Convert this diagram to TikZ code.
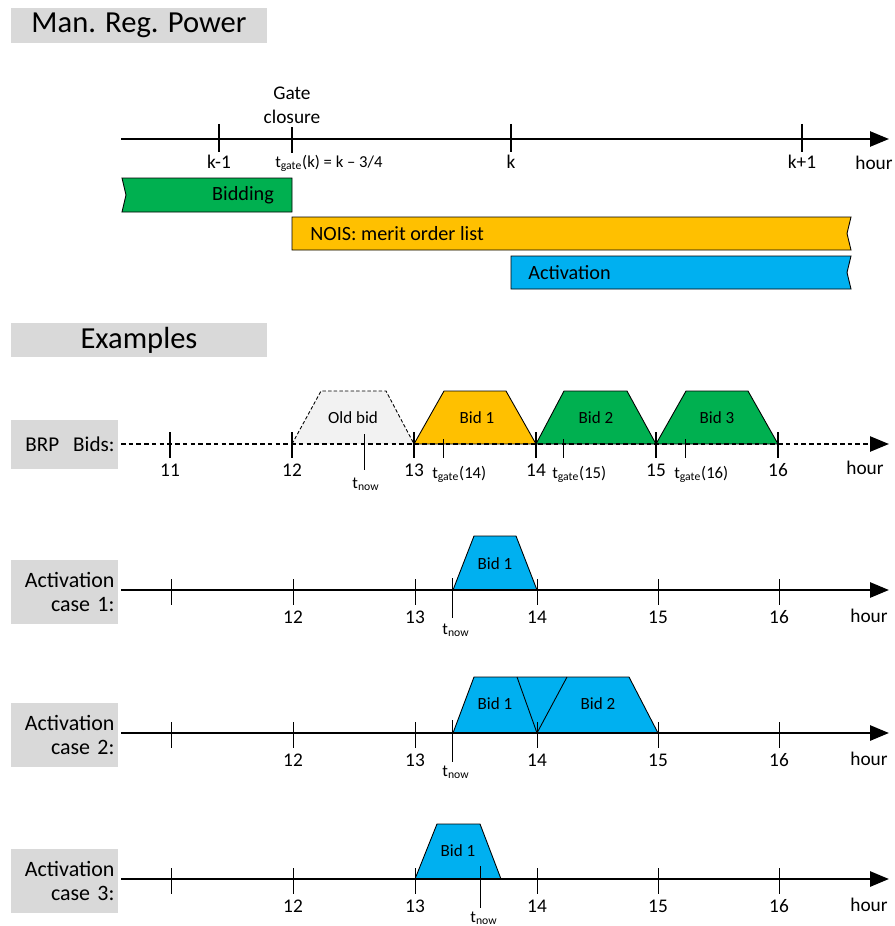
\documentclass[tikz,border=0pt]{standalone}
\usepackage{fontspec}
\setmainfont{Carlito}
\usepackage{tikz}
\usetikzlibrary{arrows.meta}
\definecolor{bidgreen}{HTML}{00B050}
\definecolor{noisorange}{HTML}{FFC000}
\definecolor{actblue}{HTML}{00B0F0}
\definecolor{boxgray}{HTML}{D9D9D9}
\definecolor{oldgray}{HTML}{F2F2F2}
\newcommand{\tsub}[1]{t\textsubscript{#1}}

\begin{document}
\begin{tikzpicture}[x=0.02cm,y=-0.02cm,
   every node/.style={inner sep=0pt},
   axis/.style={line width=1.4pt,-{Triangle[length=0.38cm,width=0.3cm]}},
   dashaxis/.style={axis,dash pattern=on 2.6pt off 1.8pt},
   thickaxis/.style={axis,line width=1.6pt},
   tick/.style={line width=0.8pt},
   thintick/.style={line width=0.5pt},
   bar/.style={draw=black,line width=0.5pt},
   bid/.style={draw=black,line width=0.5pt},
   head/.style={fill=boxgray,minimum width=5.12cm,minimum height=0.7cm,text depth=0.1cm,font=\fontsize{17.4}{20}\selectfont},
   rowbox/.style={fill=boxgray,minimum width=2.14cm,text width=2cm,align=right,font=\fontsize{12.5}{13.5}\selectfont},
   ticklbl/.style={font=\fontsize{11}{13.6}\selectfont},
   gatelbl/.style={font=\fontsize{9.5}{11}\selectfont},
   bidlbl/.style={font=\fontsize{9.7}{11}\selectfont},
   bartext/.style={font=\fontsize{11.5}{13}\selectfont}]
\useasboundingbox (0,0) rectangle (895,926);

% manual regulating power
\node[head] (title) at (139,25.5) {Man. Reg. Power};
\coordinate (top0) at (121,139);
\coordinate (top1) at (889,139);
\draw[axis] (top0) -- (top1);
\foreach \x/\t [count=\i] in {219/k-1,511/k,802/k+1}{
   \draw[tick] (\x,124) -- (\x,152);
   \node[ticklbl] (ktop\i) at (\x,162) {\t};
}
\draw[tick] (292,127) -- (292,153);
\node[ticklbl,align=center] (gate) at (292,105) {Gate\\closure};
\node[gatelbl,anchor=west] (tgate) at (275,163) {\tsub{gate}(k) = k -- 3/4};
\node[ticklbl] (hourtop) at (874,163) {hour};

\filldraw[bar,fill=bidgreen] (122,178) -- (292,178) -- (292,212) -- (122,212) -- (126,195) -- cycle;
\node[bartext] (bidding) at (243,195) {Bidding};
\filldraw[bar,fill=noisorange] (292,217) -- (851,217) -- (847,233.5) -- (851,250) -- (292,250) -- cycle;
\node[bartext,anchor=west] (nois) at (310,233.5) {NOIS: merit order list};
\filldraw[bar,fill=actblue] (511,256) -- (851,256) -- (847,272.5) -- (851,289) -- (511,289) -- cycle;
\node[bartext,anchor=west] (activation) at (528,272.5) {Activation};

% examples
\node[head] (examples) at (139,340) {Examples};

\node[rowbox,minimum height=0.98cm,font=\fontsize{12}{13}\selectfont] (brp) at (64.5,444.5) {BRP\ \ Bids:};
\filldraw[bid,fill=oldgray,dash pattern=on 2pt off 1.2pt] (292,444) -- (321,391) -- (386,391) -- (414,444);
\node[bidlbl] (oldbid) at (353,418) {Old bid};
\filldraw[bid,fill=noisorange] (414,444) -- (444,391) -- (506,391) -- (536,444) -- cycle;
\node[bidlbl] (bidone) at (477,418) {Bid 1};
\filldraw[bid,fill=bidgreen] (536,444) -- (564,391) -- (627,391) -- (656,444) -- cycle;
\node[bidlbl] (bidtwo) at (596,418) {Bid 2};
\filldraw[bid,fill=bidgreen] (656,444) -- (686,391) -- (748,391) -- (778,444) -- cycle;
\node[bidlbl] (bidthree) at (717,418) {Bid 3};
\coordinate (brp0) at (121,444);
\coordinate (brp1) at (889,444);
\draw[dashaxis] (brp0) -- (brp1);
\foreach \x/\h in {170/11,292/12,414/13,536/14,656/15,778/16}{
   \draw[tick] (\x,432) -- (\x,458);
   \node[ticklbl] (brp\h) at (\x,470) {\h};
}
\node[ticklbl] (hourbrp) at (865,468) {hour};
\draw[thintick] (364,434) -- (364,470);
\node[gatelbl] (nowbrp) at (366,484) {\tsub{now}};
\foreach \x/\h in {443/14,563/15,685/16}{
   \draw[thintick] (\x,439) -- (\x,458);
   \node[gatelbl,anchor=west] (tg\h) at (\x-11,474) {\tsub{gate}(\h)};
}

% activation cases
\filldraw[bid,fill=actblue] (453,590) -- (474,536) -- (516,536) -- (537,590) -- cycle;
\node[bidlbl] (actone) at (495,564) {Bid 1};
\filldraw[bid,fill=actblue] (453,733) -- (474,677) -- (629,677) -- (658,733) -- cycle;
\draw[bid] (517,677) -- (537,733) -- (567,677);
\node[bidlbl] (acttwoa) at (495,704) {Bid 1};
\node[bidlbl] (acttwob) at (598,704) {Bid 2};
\filldraw[bid,fill=actblue] (415,879) -- (437,824) -- (480,824) -- (501,879) -- cycle;
\node[bidlbl] (actthree) at (458,851) {Bid 1};

\foreach \y/\c in {590/1,733/2,879/3}{
   \node[rowbox,minimum height=1.28cm] (case\c) at (64.5,\y+2) {Activation\\case \c:};
   \coordinate (act\c a) at (121,\y);
   \coordinate (act\c b) at (889,\y);
   \draw[thickaxis] (act\c a) -- (act\c b);
   \draw[thintick] (171,\y-11) -- (171,\y+15);
   \foreach \x/\h in {293/12,415/13,537/14,658/15,779/16}{
      \draw[thintick] (\x,\y-11) -- (\x,\y+15);
      \node[ticklbl] (n\c\h) at (\x,\y+27) {\h};
   }
   \node[ticklbl] (hour\c) at (869,\y+26) {hour};
}
\draw[thintick] (452,578) -- (452,618);
\node[gatelbl] (nowone) at (456,630) {\tsub{now}};
\draw[thintick] (452,720) -- (452,762);
\node[gatelbl] (nowtwo) at (456,772) {\tsub{now}};
\draw[thintick] (480,866) -- (480,908);
\node[gatelbl] (nowthree) at (484,918) {\tsub{now}};
\end{tikzpicture}
\end{document}
